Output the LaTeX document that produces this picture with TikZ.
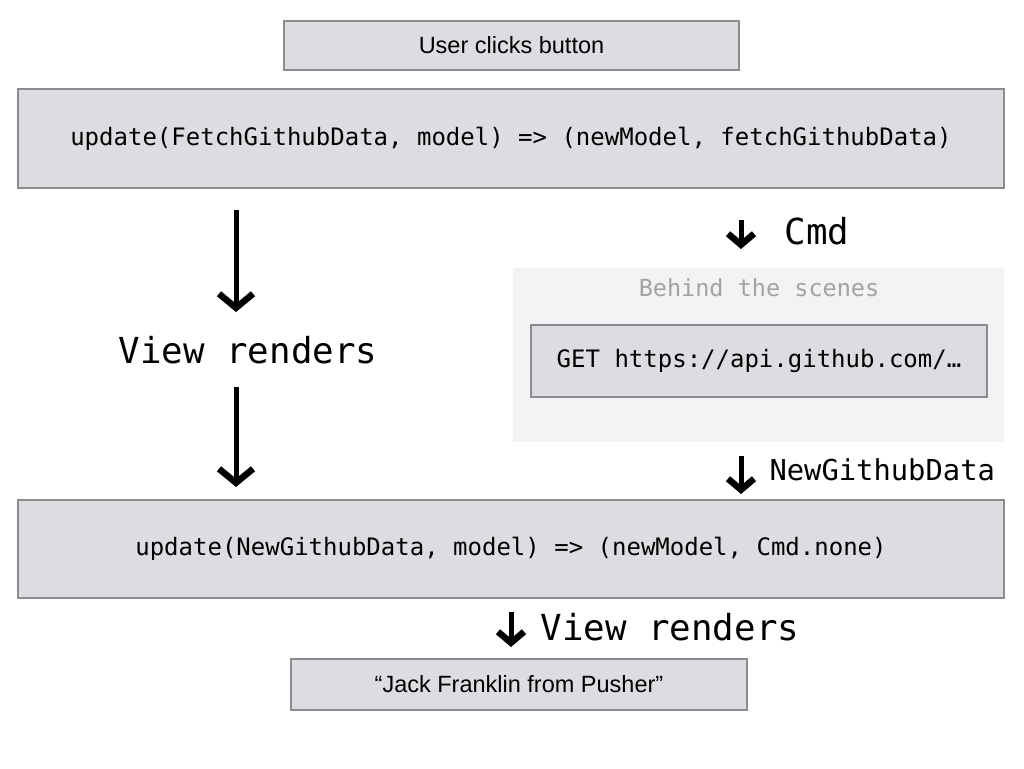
\documentclass[tikz,border=0pt]{standalone}
\usepackage{fontspec}
\setmainfont{Liberation Sans}
\setmonofont{DejaVu Sans Mono}
\usepackage{tikz}
\usetikzlibrary{arrows.meta}
\usepackage{xcolor}
\definecolor{boxfill}{HTML}{DCDDE0}
\definecolor{boxline}{HTML}{8C8C8E}
\definecolor{scenefill}{HTML}{F3F3F5}
\definecolor{scenetext}{HTML}{A3A3A3}

\begin{document}
\begin{tikzpicture}[x=1pt, y=-1pt,
        box/.style={draw=boxline, fill=boxfill, line width=1.5pt, inner sep=0pt, anchor=center},
        codetext/.style={font=\ttfamily\fontsize{24}{28}\selectfont},
        bigarrow/.style={line width=5pt, -{Straight Barb[length=14pt, width=34pt, line width=6.5pt]}},
        smallarrow/.style={line width=5pt, -{Straight Barb[length=11pt, width=26pt, line width=6.5pt]}}]
        \useasboundingbox [fill=white] (0,0) rectangle (1024,768);
        % boxes
        \node [box, minimum width=455pt, minimum height=49pt, font=\fontsize{23.5}{28}\selectfont] (click) at (511.5,45.5) {User clicks button};
        \node [box, minimum width=986pt, minimum height=99pt, codetext] (fetch) at (511,138.5) {update(FetchGithubData, model) => (newModel, fetchGithubData)};
        \fill [scenefill] (513,268) rectangle (1004,442);
        \node [text=scenetext, font=\ttfamily\fontsize{23.5}{28}\selectfont] (scenes) at (759,288) {Behind the scenes};
        \node [box, minimum width=456pt, minimum height=72pt, codetext] (get) at (759,361) {GET https://api.github.com/…};
        \node [box, minimum width=986pt, minimum height=98pt, codetext] (newdata) at (511,549) {update(NewGithubData, model) => (newModel, Cmd.none)};
        \node [box, minimum width=456pt, minimum height=51pt, font=\fontsize{23.5}{28}\selectfont] (pusher) at (519,684.5) {“Jack Franklin from Pusher”};
        % labels
        \node [font=\ttfamily\fontsize{35.8}{40}\selectfont] (viewl) at (248,350) {View renders};
        \node [font=\ttfamily\fontsize{35.8}{40}\selectfont, anchor=west] (cmd) at (781,231) {Cmd};
        \node [font=\ttfamily\fontsize{28.8}{32}\selectfont, anchor=west] (msg) at (766,470) {NewGithubData};
        \node [font=\ttfamily\fontsize{35.8}{40}\selectfont, anchor=west] (viewr) at (537,627) {View renders};
        % arrows
        \coordinate (l1) at (236,210);
        \coordinate (l2) at (236,312);
        \coordinate (l3) at (236,387);
        \coordinate (l4) at (236,487);
        \draw [bigarrow] (l1) -- (l2);
        \draw [bigarrow] (l3) -- (l4);
        \draw [smallarrow] (741,220) coordinate (c1) -- (741,249) coordinate (c2);
        \draw [smallarrow] (741,456) coordinate (n1) -- (741,494) coordinate (n2);
        \draw [smallarrow] (511,612) coordinate (v1) -- (511,647) coordinate (v2);
\end{tikzpicture}
\end{document}
